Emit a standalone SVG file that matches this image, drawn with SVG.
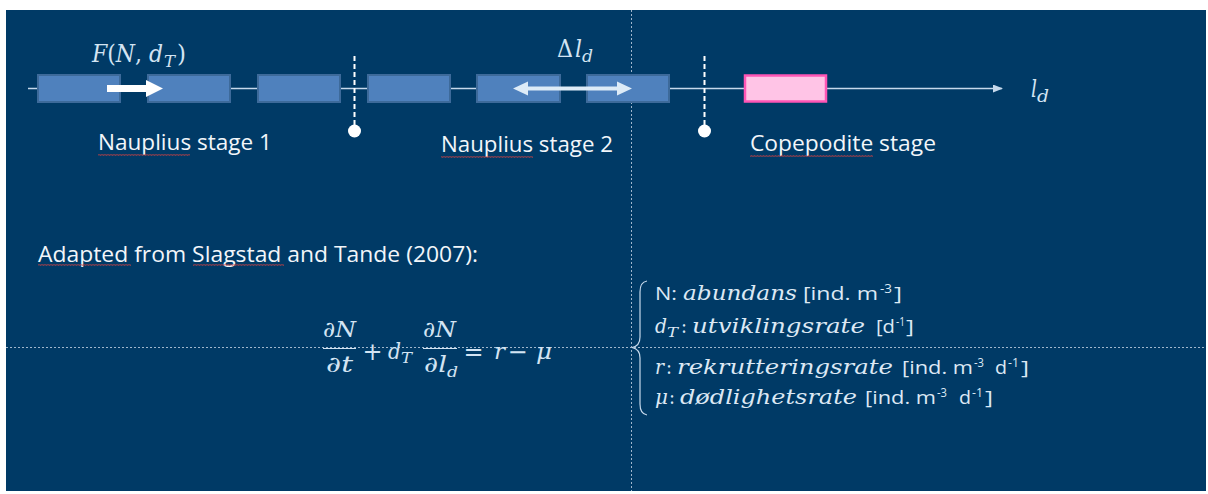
<svg xmlns="http://www.w3.org/2000/svg" width="1208" height="494" viewBox="0 0 1208 494">
<style>
.bg{fill:#003A66}
.box{fill:#4F81BD;stroke:#3D6A9A;stroke-width:2}
.pink{fill:#FFC4E6;stroke:#FF55B5;stroke-width:2.5}
.lbl{font-family:"Open Sans","Liberation Sans",sans-serif;font-size:21px;fill:#F2F6FA}
.m{font-family:"DejaVu Serif","Liberation Serif",serif;font-style:italic;fill:#D3E4F3;font-size:22px}
.mu{font-family:"DejaVu Serif","Liberation Serif",serif;font-style:normal;fill:#D3E4F3;font-size:22px}
.ms{font-family:"DejaVu Serif","Liberation Serif",serif;font-style:italic;fill:#D3E4F3;font-size:15px}
.big{font-size:24px}
.bigs{font-size:16px}
.op{font-size:24px;text-anchor:middle}
.lm{font-family:"DejaVu Serif","Liberation Serif",serif;font-style:italic;fill:#DCE8F4;font-size:20px}
.lmu{font-family:"DejaVu Serif","Liberation Serif",serif;font-style:normal;fill:#DCE8F4;font-size:20px}
.lms{font-family:"DejaVu Serif","Liberation Serif",serif;font-style:italic;fill:#DCE8F4;font-size:13px}
.ls{font-family:"Open Sans","Liberation Sans",sans-serif;fill:#DCE8F4;font-size:19px}
.sup{font-family:"Open Sans","Liberation Sans",sans-serif;fill:#DCE8F4;font-size:12px}
.guide{stroke:#9FB6CC;stroke-width:1;stroke-dasharray:2 2;fill:none}
.stagecut{stroke:#FFFFFF;stroke-width:2;stroke-dasharray:5 3;fill:none}
.wavy{fill:url(#wave)}
.bar{stroke:#D3E4F3;stroke-width:1.2}
</style>
<defs>
<pattern id="wave" width="3" height="2" patternUnits="userSpaceOnUse">
<path d="M0,1.7 L0.75,0.3 L1.5,1.7 L2.25,0.3 L3,1.7" stroke="#D04040" stroke-width="0.6" fill="none"/>
</pattern>
<marker id="axisHead" markerWidth="10" markerHeight="8" refX="9" refY="4" orient="auto" markerUnits="userSpaceOnUse">
<path d="M0,0 L10,4 L0,8 Z" fill="#C6D9EC"/>
</marker>
</defs>
<rect x="0" y="0" width="1208" height="494" fill="#FFFFFF"/>
<rect class="bg" x="6" y="10" width="1200" height="481"/>

<g id="guides">
<line class="guide" x1="631.5" y1="10" x2="631.5" y2="491"/>
<line class="guide" x1="6" y1="347.5" x2="1206" y2="347.5"/>
</g>

<g id="connectors">
<line x1="28" y1="88.5" x2="1002" y2="88.5" stroke="#C6D9EC" stroke-width="1.3" marker-end="url(#axisHead)"/>
<line class="stagecut" x1="354.5" y1="56" x2="354.5" y2="128"/>
<circle cx="354.5" cy="131" r="6.5" fill="#FFFFFF"/>
<line class="stagecut" x1="704.5" y1="56" x2="704.5" y2="128"/>
<circle cx="704.5" cy="131" r="6.5" fill="#FFFFFF"/>
</g>

<g id="box1"><rect class="box" x="38" y="75" width="82" height="27"/></g>
<g id="box2"><rect class="box" x="148" y="75" width="82" height="27"/></g>
<g id="box3"><rect class="box" x="258" y="75" width="82" height="27"/></g>
<g id="box4"><rect class="box" x="368" y="75" width="82" height="27"/></g>
<g id="box5"><rect class="box" x="477" y="75" width="83" height="27"/></g>
<g id="box6"><rect class="box" x="587" y="75" width="82" height="27"/></g>
<g id="copepodite-box"><rect class="pink" x="745" y="75.5" width="81" height="26"/></g>

<g id="flux-arrow">
<rect x="107" y="85" width="40" height="7" fill="#FFFFFF"/>
<path d="M146,80 L163,88.5 L146,97 Z" fill="#FFFFFF"/>
</g>
<g id="delta-arrow">
<line x1="525" y1="88.5" x2="620" y2="88.5" stroke="#DDEBF7" stroke-width="4"/>
<path d="M513,88.5 L528,81.5 L528,95.5 Z" fill="#DDEBF7"/>
<path d="M632,88.5 L617,81.5 L617,95.5 Z" fill="#DDEBF7"/>
</g>

<g id="math-labels">
<text class="m big" x="92" y="62" textLength="71" lengthAdjust="spacingAndGlyphs">F<tspan class="mu big">(</tspan>N<tspan class="mu big">, </tspan>d</text>
<text class="ms bigs" x="164" y="67" textLength="11" lengthAdjust="spacingAndGlyphs">T</text>
<text class="mu big" x="177" y="62" textLength="9" lengthAdjust="spacingAndGlyphs">)</text>
<text class="mu big" x="557" y="57" textLength="16" lengthAdjust="spacingAndGlyphs">Δ</text>
<text class="m big" x="575" y="57" textLength="7" lengthAdjust="spacingAndGlyphs">l</text>
<text class="ms bigs" x="582" y="62" textLength="11" lengthAdjust="spacingAndGlyphs">d</text>
<text class="m big" x="1031" y="97" textLength="6" lengthAdjust="spacingAndGlyphs">l</text>
<text class="ms bigs" x="1037" y="102" textLength="12" lengthAdjust="spacingAndGlyphs">d</text>
</g>

<g id="stage-labels">
<text class="lbl" x="98" y="150" textLength="174" lengthAdjust="spacingAndGlyphs">Nauplius stage 1</text>
<text class="lbl" x="441" y="152" textLength="172" lengthAdjust="spacingAndGlyphs">Nauplius stage 2</text>
<text class="lbl" x="750" y="151" textLength="186" lengthAdjust="spacingAndGlyphs">Copepodite stage</text>
<rect class="wavy" x="98" y="154" width="92" height="2"/>
<rect class="wavy" x="441" y="156" width="92" height="2"/>
<rect class="wavy" x="750" y="155" width="123" height="2"/>
</g>

<g id="source">
<text class="lbl" x="38" y="262" style="font-size:22px" textLength="440" lengthAdjust="spacingAndGlyphs">Adapted from Slagstad and Tande (2007):</text>
<rect class="wavy" x="38" y="264" width="93" height="2"/>
<rect class="wavy" x="193" y="264" width="91" height="2"/>
</g>

<g id="equation">
<text class="m" x="323" y="337" textLength="33" lengthAdjust="spacingAndGlyphs"><tspan class="mu">∂</tspan>N</text>
<line class="bar" x1="323" y1="348.5" x2="356" y2="348.5"/>
<text class="m" x="326" y="372" textLength="27" lengthAdjust="spacingAndGlyphs"><tspan class="mu">∂</tspan>t</text>
<text class="mu op" x="372.5" y="360">+</text>
<text class="m" x="388" y="359" textLength="13" lengthAdjust="spacingAndGlyphs">d</text>
<text class="ms" x="401" y="363" textLength="11" lengthAdjust="spacingAndGlyphs">T</text>
<text class="m" x="423" y="337" textLength="33" lengthAdjust="spacingAndGlyphs"><tspan class="mu">∂</tspan>N</text>
<line class="bar" x1="423" y1="348.5" x2="457" y2="348.5"/>
<text class="m" x="424" y="372" textLength="23" lengthAdjust="spacingAndGlyphs"><tspan class="mu">∂</tspan>l</text>
<text class="ms" x="447" y="377" textLength="11" lengthAdjust="spacingAndGlyphs">d</text>
<text class="mu op" x="473.5" y="360">=</text>
<text class="m" x="494" y="359" textLength="11" lengthAdjust="spacingAndGlyphs">r</text>
<text class="mu op" x="517.5" y="360">−</text>
<text class="m" x="536" y="359" textLength="16" lengthAdjust="spacingAndGlyphs">μ</text>
</g>

<g id="legend">
<path d="M647,281 Q640,282 640,292 L640,337 Q640,346 632,347.5 Q640,349 640,358 L640,404 Q640,414 647,415" fill="none" stroke="#C6D9EC" stroke-width="1.2"/>
<text class="ls" x="655" y="300" textLength="22" lengthAdjust="spacingAndGlyphs">N:</text>
<text class="lm" x="683" y="300" textLength="114" lengthAdjust="spacingAndGlyphs">abundans</text>
<text class="ls" x="803" y="300" textLength="75" lengthAdjust="spacingAndGlyphs">[ind. m</text>
<text class="sup" x="880" y="293" textLength="12" lengthAdjust="spacingAndGlyphs">-3</text>
<text class="ls" x="894" y="300" textLength="8" lengthAdjust="spacingAndGlyphs">]</text>

<text class="lm" x="655" y="333" textLength="12" lengthAdjust="spacingAndGlyphs">d</text>
<text class="lms" x="667" y="337" textLength="11" lengthAdjust="spacingAndGlyphs">T</text>
<text class="lmu" x="681" y="333" textLength="6" lengthAdjust="spacingAndGlyphs">:</text>
<text class="lm" x="692" y="333" textLength="173" lengthAdjust="spacingAndGlyphs">utviklingsrate</text>
<text class="ls" x="876" y="333" textLength="19" lengthAdjust="spacingAndGlyphs">[d</text>
<text class="sup" x="896" y="326" textLength="9" lengthAdjust="spacingAndGlyphs">-1</text>
<text class="ls" x="906" y="333" textLength="8" lengthAdjust="spacingAndGlyphs">]</text>

<text class="lm" x="655" y="374" textLength="9" lengthAdjust="spacingAndGlyphs">r</text>
<text class="lmu" x="666" y="374" textLength="6" lengthAdjust="spacingAndGlyphs">:</text>
<text class="lm" x="677" y="374" textLength="216" lengthAdjust="spacingAndGlyphs">rekrutteringsrate</text>
<text class="ls" x="902" y="374" textLength="71" lengthAdjust="spacingAndGlyphs">[ind. m</text>
<text class="sup" x="974" y="367" textLength="10" lengthAdjust="spacingAndGlyphs">-3</text>
<text class="ls" x="995" y="374" textLength="12" lengthAdjust="spacingAndGlyphs">d</text>
<text class="sup" x="1008" y="367" textLength="11" lengthAdjust="spacingAndGlyphs">-1</text>
<text class="ls" x="1021" y="374" textLength="8" lengthAdjust="spacingAndGlyphs">]</text>

<text class="lm" x="655" y="404" textLength="13" lengthAdjust="spacingAndGlyphs">μ</text>
<text class="lmu" x="669" y="404" textLength="6" lengthAdjust="spacingAndGlyphs">:</text>
<text class="lm" x="680" y="404" textLength="177" lengthAdjust="spacingAndGlyphs">dødlighetsrate</text>
<text class="ls" x="865" y="404" textLength="71" lengthAdjust="spacingAndGlyphs">[ind. m</text>
<text class="sup" x="937" y="397" textLength="10" lengthAdjust="spacingAndGlyphs">-3</text>
<text class="ls" x="959" y="404" textLength="12" lengthAdjust="spacingAndGlyphs">d</text>
<text class="sup" x="972" y="397" textLength="11" lengthAdjust="spacingAndGlyphs">-1</text>
<text class="ls" x="985" y="404" textLength="8" lengthAdjust="spacingAndGlyphs">]</text>
</g>
</svg>
